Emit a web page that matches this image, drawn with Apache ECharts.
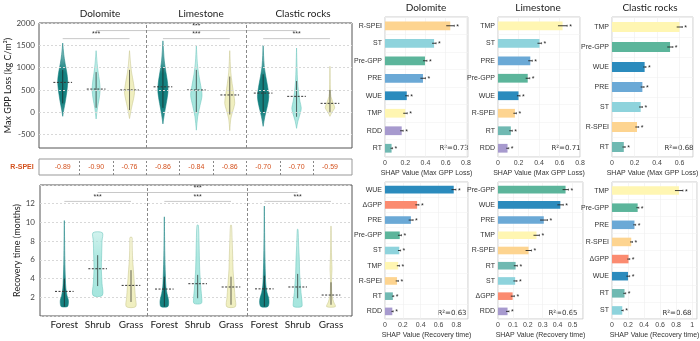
<!DOCTYPE html>
<html><head><meta charset="utf-8">
<script src="https://cdn.jsdelivr.net/npm/echarts@6/dist/echarts.min.js"></script>
<style>html,body{margin:0;padding:0;background:#fff}#c{width:700px;height:341px}</style>
</head><body><div id="c"></div>
<script>
// ---------------- DATA ----------------
const rockGroups = ['Dolomite', 'Limestone', 'Clastic rocks'];
const vegTypes = ['Forest', 'Shrub', 'Grass'];
const gppTicks = [-500, 0, 500, 1000, 1500, 2000];
const rtTicks = [2, 4, 6, 8, 10, 12];
const rspeiValues = [-0.89, -0.90, -0.76, -0.86, -0.84, -0.86, -0.70, -0.70, -0.59];

// violin outlines: [value, half-width (x units)]
const gppProfiles = [
  [[-90,0],[50,0.03],[250,0.08],[500,0.13],[700,0.15],[900,0.12],[1100,0.07],[1300,0.03],[1550,0]],
  [[-150,0],[100,0.04],[300,0.09],[500,0.12],[700,0.10],[900,0.06],[1100,0.03],[1380,0]],
  [[-140,0],[100,0.06],[300,0.12],[450,0.15],[650,0.12],[900,0.06],[1100,0.03],[1380,0]],
  [[-260,0],[-50,0.04],[200,0.10],[450,0.15],[650,0.14],[900,0.09],[1150,0.04],[1600,0]],
  [[-400,0],[-100,0.04],[150,0.11],[380,0.17],[600,0.13],[850,0.07],[1100,0.03],[1500,0]],
  [[-410,0],[-150,0.03],[50,0.10],[200,0.15],[400,0.12],[650,0.07],[900,0.03],[1380,0]],
  [[-315,0],[-100,0.05],[150,0.13],[350,0.17],[550,0.14],[800,0.08],[1050,0.03],[1500,0]],
  [[-360,0],[-200,0.04],[0,0.12],[100,0.14],[250,0.10],[450,0.06],[700,0.03],[1000,0.015],[1440,0]],
  [[-90,0],[0,0.06],[100,0.14],[200,0.10],[350,0.03],[500,0.012],[1030,0]]
];
const gppMeans = [670, 520, 500, 570, 500, 388, 430, 357, 200];
const gppInner = [[200,950],[100,900],[50,950],[100,1000],[0,950],[-50,800],[0,850],[-100,700],[0,500]];

const rtProfiles = [
  [[1.0,0.09],[1.3,0.12],[1.7,0.12],[2.2,0.08],[3,0.045],[4,0.03],[6,0.015],[8,0.008],[10.2,0]],
  [[2.2,0.14],[3.5,0.13],[5,0.11],[6.5,0.12],[8,0.13],[8.9,0.14]],
  [[1.0,0.14],[2,0.13],[3,0.11],[4,0.09],[5,0.07],[6,0.05],[7,0.04],[8,0.035],[8.4,0.03]],
  [[1.0,0.1],[1.4,0.13],[1.8,0.12],[2.4,0.08],[3.2,0.045],[4.5,0.03],[6.5,0.015],[8.5,0.007],[10.6,0]],
  [[1.35,0.11],[2,0.12],[2.8,0.1],[3.8,0.08],[5,0.06],[6.5,0.05],[8,0.04],[9.7,0.02]],
  [[1.0,0.13],[2,0.12],[3,0.1],[4,0.08],[5,0.06],[6.5,0.05],[8,0.035],[9.7,0.015]],
  [[1.0,0.1],[1.4,0.14],[1.9,0.13],[2.5,0.08],[3.3,0.045],[4.5,0.03],[7,0.015],[9.5,0.006],[11.75,0]],
  [[1.0,0.12],[1.5,0.13],[2.5,0.1],[3.5,0.08],[4.5,0.06],[6,0.05],[7.5,0.03],[9.26,0.01]],
  [[1.0,0.13],[1.5,0.08],[2,0.04],[2.6,0.02],[4,0.015],[5,0.03],[6,0.02],[7.5,0.01],[9.6,0.005]]
];
const rtMeans = [2.63, 5.05, 3.27, 2.88, 3.45, 3.1, 2.9, 3.1, 2.24];
const rtInner = [[1,4],[3.2,6.5],[1.5,4.9],[1,4.2],[1.9,4.4],[1.2,4.2],[1,4.3],[1.9,4.5],[1.2,3.6]];

const gppSig = [[0,2,1650],[3,5,1650],[6,8,1650],[1,7,1830]];
const rtSig = [[0,2,12.25],[3,5,12.25],[6,8,12.25],[1,7,13.2]];

// SHAP panels
const shapGppDolVars = ['R-SPEI','ST','Pre-GPP','PRE','WUE','TMP','RDD','RT'];
const shapGppDolVals = [0.645,0.485,0.395,0.375,0.215,0.2,0.165,0.065];
const shapGppDolErr  = [0.04,0.02,0.02,0.025,0.015,0.02,0.015,0.01];
const shapGppLimVars = ['TMP','ST','PRE','Pre-GPP','WUE','R-SPEI','RT','RDD'];
const shapGppLimVals = [0.63,0.405,0.315,0.29,0.2,0.165,0.125,0.093];
const shapGppLimErr  = [0.045,0.02,0.02,0.02,0.015,0.015,0.015,0.012];
const shapGppClaVars = ['TMP','Pre-GPP','WUE','PRE','ST','R-SPEI','RT'];
const shapGppClaVals = [0.6,0.516,0.29,0.27,0.255,0.222,0.105];
const shapGppClaErr  = [0.025,0.025,0.012,0.015,0.015,0.015,0.012];
const shapRtDolVars = ['WUE','ΔGPP','PRE','Pre-GPP','ST','TMP','R-SPEI','RT','RDD'];
const shapRtDolVals = [0.77,0.36,0.29,0.165,0.16,0.148,0.135,0.088,0.082];
const shapRtDolErr  = [0.025,0.02,0.025,0.02,0.015,0.015,0.015,0.01,0.01];
const shapRtLimVars = ['Pre-GPP','WUE','PRE','TMP','R-SPEI','RT','ST','ΔGPP','RDD'];
const shapRtLimVals = [0.453,0.418,0.307,0.258,0.205,0.118,0.115,0.098,0.064];
const shapRtLimErr  = [0.02,0.02,0.025,0.02,0.02,0.012,0.012,0.012,0.01];
const shapRtClaVars = ['TMP','Pre-GPP','PRE','R-SPEI','ΔGPP','WUE','RT','ST'];
const shapRtClaVals = [0.835,0.32,0.28,0.24,0.206,0.2,0.156,0.128];
const shapRtClaErr  = [0.05,0.015,0.015,0.015,0.015,0.02,0.015,0.012];
const r2Gpp = ['0.73','0.71','0.68'];
const r2Rt = ['0.63','0.65','0.68'];

// ---------------- STYLE ----------------
const F = 'Lato, "Open Sans", sans-serif';
const FA = '"Liberation Sans", Arial, sans-serif';
const vegColors = ['#14807f', '#a6e6de', '#f0efc0'];
const vegStroke = ['#14807f', '#6cc5bc', '#c9c78f'];
const varColors = {
  'R-SPEI':'#fdd490','ST':'#8ed3dc','Pre-GPP':'#5cb59b','PRE':'#6ba9d6','WUE':'#2b8bbd',
  'TMP':'#fff6b2','RDD':'#a79ace','RT':'#70b9b2','ΔGPP':'#fb8b70'
};
function rgba(hex, a) {
  const n = parseInt(hex.slice(1), 16);
  return 'rgba(' + (n >> 16) + ',' + ((n >> 8) & 255) + ',' + (n & 255) + ',' + a + ')';
}

function violinRender(profiles, means, inner, stopsFn) {
  return function (params, api) {
    const i = api.value(0);
    const prof = profiles[i];
    const pts = [];
    prof.forEach(p => pts.push(api.coord([i - p[1], p[0]])));
    for (let k = prof.length - 1; k >= 0; k--) pts.push(api.coord([i + prof[k][1], prof[k][0]]));
    const col = vegColors[i % 3];
    const fill = new echarts.graphic.LinearGradient(0, 0, 0, 1, stopsFn(col, i % 3));
    const m1 = api.coord([i - 0.28, means[i]]), m2 = api.coord([i + 0.28, means[i]]);
    const a = api.coord([i, inner[i][0]]), b = api.coord([i, inner[i][1]]);
    return {
      type: 'group', children: [
        { type: 'polygon', shape: { points: pts, smooth: 0.3 }, style: { fill: fill, stroke: rgba(vegStroke[i % 3], 0.7), lineWidth: 0.8 } },
        { type: 'line', shape: { x1: a[0], y1: a[1], x2: b[0], y2: b[1] }, style: { stroke: 'rgba(30,30,30,0.85)', lineWidth: 0.8 } },
        { type: 'line', shape: { x1: m1[0], y1: m1[1], x2: m2[0], y2: m2[1] }, style: { stroke: '#333', lineWidth: 1, lineDash: [2, 1.5] } }
      ]
    };
  };
}
function sigRender(sig) {
  return function (params, api) {
    const s = sig[api.value(0)];
    const p1 = api.coord([s[0], s[2]]), p2 = api.coord([s[1], s[2]]);
    return {
      type: 'group', children: [
        { type: 'line', shape: { x1: p1[0], y1: p1[1], x2: p2[0], y2: p2[1] }, style: { stroke: '#c8c8c8', lineWidth: 1 } },
        { type: 'text', style: { text: '***', x: (p1[0] + p2[0]) / 2, y: p1[1] - 1, align: 'center', verticalAlign: 'bottom', fontSize: 7, fill: '#333', fontFamily: FA } }
      ]
    };
  };
}
const topStops = (c) => [
  { offset: 0, color: rgba(c, 0.35) }, { offset: 0.4, color: rgba(c, 1) },
  { offset: 0.8, color: rgba(c, 1) }, { offset: 1, color: rgba(c, 0.75) }];
const botStops = (c, v) => v === 0 ? [
  { offset: 0, color: rgba(c, 0.03) }, { offset: 0.4, color: rgba(c, 0.45) },
  { offset: 0.7, color: rgba(c, 1) }, { offset: 1, color: rgba(c, 1) }] : [
  { offset: 0, color: rgba(c, 0.5) }, { offset: 0.4, color: rgba(c, 0.9) },
  { offset: 1, color: rgba(c, 1) }];

const XMIN = -0.71, XMAX = 8.66;
const idx9 = [0,1,2,3,4,5,6,7,8];
const catLabels = idx9.map(i => vegTypes[i % 3]);

const grids = [
  { left: 39, top: 23, width: 313, height: 125 },
  { left: 39, top: 159, width: 313, height: 16 },
  { left: 40, top: 185, width: 312, height: 131 },
  { left: 385, top: 17, width: 83, height: 140 },
  { left: 498, top: 17, width: 82, height: 140 },
  { left: 612, top: 17, width: 81, height: 140 },
  { left: 385, top: 182, width: 83, height: 137 },
  { left: 498, top: 182, width: 85, height: 137 },
  { left: 612, top: 182, width: 85, height: 137 }
].map((g, k) => Object.assign({
  show: true, backgroundColor: 'transparent', outerBoundsMode: 'none', containLabel: false,
  borderColor: k < 3 ? (k === 1 ? '#999' : '#555') : '#ccc', borderWidth: 1
}, g));

const xAxes = [], yAxes = [], series = [];
// grid 0: GPP violins
xAxes.push({ gridIndex: 0, type: 'value', min: XMIN, max: XMAX, axisLabel: { show: false }, axisTick: { show: false }, axisLine: { show: false }, splitLine: { show: false } });
yAxes.push({ gridIndex: 0, type: 'value', min: -800, max: 2000,
  axisLabel: { customValues: gppTicks, formatter: v => String(v), fontSize: 8, color: '#444', fontFamily: F, margin: 4 },
  axisTick: { show: false }, axisLine: { show: false }, splitLine: { show: false },
  name: 'Max GPP Loss (kg C/m²)', nameLocation: 'middle', nameGap: 25, nameTextStyle: { fontSize: 9, color: '#222', fontFamily: F } });
// grid 1: table
xAxes.push({ gridIndex: 1, type: 'value', min: XMIN, max: XMAX, show: false });
yAxes.push({ gridIndex: 1, type: 'value', min: 0, max: 1, show: false });
// grid 2: RT violins
xAxes.push({ gridIndex: 2, type: 'value', min: -0.73, max: 8.63,
  axisLabel: { customValues: idx9, formatter: v => catLabels[Math.round(v)], fontSize: 10, color: '#222', fontFamily: F, margin: 4 },
  axisTick: { show: false }, axisLine: { show: false }, splitLine: { show: false } });
yAxes.push({ gridIndex: 2, type: 'value', min: 0, max: 14, interval: 2,
  axisLabel: { customValues: rtTicks, fontSize: 8, color: '#444', fontFamily: F, margin: 5 },
  axisTick: { show: false }, axisLine: { show: false }, splitLine: { show: true, lineStyle: { color: '#d8d8d8', type: [2, 2] } },
  name: 'Recovery time (months)', nameLocation: 'middle', nameGap: 17, nameTextStyle: { fontSize: 9, color: '#222', fontFamily: F } });

series.push({ type: 'line', xAxisIndex: 0, yAxisIndex: 0, data: [], z: 1, silent: true,
  markLine: { silent: true, symbol: 'none', label: { show: false },
    data: gppTicks.map(v => ({ yAxis: v, lineStyle: { color: '#d8d8d8', type: [2, 2], width: 1 } }))
      .concat([2.5, 5.5].map(v => ({ xAxis: v, lineStyle: { color: '#888', type: [3, 2], width: 1 } }))) } });
series.push({ type: 'custom', xAxisIndex: 0, yAxisIndex: 0, z: 3, data: gppMeans.map((m, i) => [i, m]),
  renderItem: violinRender(gppProfiles, gppMeans, gppInner, topStops) });
series.push({ type: 'custom', xAxisIndex: 0, yAxisIndex: 0, z: 4, data: gppSig.map((s, i) => [i]),
  renderItem: sigRender(gppSig) });

series.push({ type: 'custom', xAxisIndex: 1, yAxisIndex: 1, z: 3, data: rspeiValues.map((v, i) => [i, v]),
  renderItem: function (params, api) {
    const i = api.value(0); const p = api.coord([i, 0.5]);
    return { type: 'text', style: { text: rspeiValues[i].toFixed(2), x: p[0], y: p[1], align: 'center', verticalAlign: 'middle', fontSize: 7, fill: '#d4511d', fontFamily: FA } };
  },
  markLine: { silent: true, symbol: 'none', label: { show: false },
    data: [0.5,1.5,2.5,3.5,4.5,5.5,6.5,7.5].map(v => ({ xAxis: v, lineStyle: { color: '#888', type: [2, 2], width: 1 } })) } });

series.push({ type: 'line', xAxisIndex: 2, yAxisIndex: 2, data: [], z: 1, silent: true,
  markLine: { silent: true, symbol: 'none', label: { show: false },
    data: [2.5, 5.5].map(v => ({ xAxis: v, lineStyle: { color: '#888', type: [3, 2], width: 1 } })) } });
series.push({ type: 'custom', xAxisIndex: 2, yAxisIndex: 2, z: 3, data: rtMeans.map((m, i) => [i, m]),
  renderItem: violinRender(rtProfiles, rtMeans, rtInner, botStops) });
series.push({ type: 'custom', xAxisIndex: 2, yAxisIndex: 2, z: 4, data: rtSig.map((s, i) => [i]),
  renderItem: sigRender(rtSig) });

// SHAP panels
const shapPanels = [
  { vars: shapGppDolVars, vals: shapGppDolVals, err: shapGppDolErr, max: 0.82, step: 0.2, name: 'SHAP Value (Max GPP Loss)' },
  { vars: shapGppLimVars, vals: shapGppLimVals, err: shapGppLimErr, max: 0.8, step: 0.2, name: 'SHAP Value (Max GPP Loss)' },
  { vars: shapGppClaVars, vals: shapGppClaVals, err: shapGppClaErr, max: 0.72, step: 0.2, name: 'SHAP Value (Max GPP Loss)' },
  { vars: shapRtDolVars, vals: shapRtDolVals, err: shapRtDolErr, max: 0.93, step: 0.2, name: 'SHAP Value (Recovery time)' },
  { vars: shapRtLimVars, vals: shapRtLimVals, err: shapRtLimErr, max: 0.57, step: 0.1, name: 'SHAP Value (Recovery time)' },
  { vars: shapRtClaVars, vals: shapRtClaVals, err: shapRtClaErr, max: 1.06, step: 0.2, name: 'SHAP Value (Recovery time)' }
];
shapPanels.forEach((p, k) => {
  const g = 3 + k;
  const exact = Math.abs(p.max / p.step - Math.round(p.max / p.step)) < 1e-6;
  xAxes.push({ gridIndex: g, type: 'value', min: 0, max: p.max, interval: p.step,
    axisLabel: { fontSize: 7, color: '#444', fontFamily: FA, margin: 3, showMaxLabel: exact },
    axisTick: { show: false }, axisLine: { show: false },
    splitLine: { show: true, lineStyle: { color: '#eeeeee', width: 0.6 } },
    name: p.name, nameLocation: 'middle', nameGap: 13, nameTextStyle: { fontSize: 7, color: '#333', fontFamily: FA } });
  yAxes.push({ gridIndex: g, type: 'category', data: p.vars, inverse: true,
    axisLabel: { fontSize: 7, color: '#333', fontFamily: FA, margin: 3 },
    axisTick: { show: false }, axisLine: { show: false },
    splitLine: { show: true, lineStyle: { color: '#f2f2f2', width: 0.6 } } });
  series.push({ type: 'bar', xAxisIndex: g, yAxisIndex: g, barWidth: '50%', z: 3,
    data: p.vals.map((v, j) => ({ value: v, itemStyle: { color: varColors[p.vars[j]] } })) });
  series.push({ type: 'custom', xAxisIndex: g, yAxisIndex: g, z: 4,
    data: p.vals.map((v, j) => [v, j, p.err[j]]), encode: { x: 0, y: 1 },
    renderItem: function (params, api) {
      const v = api.value(0), j = api.value(1), e = api.value(2);
      const a = api.coord([v - e, j]), b = api.coord([v + e, j]);
      return { type: 'group', children: [
        { type: 'line', shape: { x1: a[0], y1: a[1], x2: b[0], y2: b[1] }, style: { stroke: '#222', lineWidth: 0.9 } },
        { type: 'line', shape: { x1: b[0], y1: b[1] - 1, x2: b[0], y2: b[1] + 1 }, style: { stroke: '#222', lineWidth: 0.6 } },
        { type: 'text', style: { text: '*', x: b[0] + 2, y: b[1] + 1, align: 'left', verticalAlign: 'middle', fontSize: 7, fill: '#222', fontFamily: FA } }
      ] };
    } });
});

// text annotations
const graphic = [];
const leftTitleX = [100, 201, 303];
rockGroups.forEach((t, k) => graphic.push({ type: 'text', style: { text: t, x: leftTitleX[k], y: 14, fontSize: 10, fill: '#222', fontFamily: F, align: 'center', verticalAlign: 'middle' } }));
const rightTitleX = [426, 538, 650];
rockGroups.forEach((t, k) => graphic.push({ type: 'text', style: { text: t, x: rightTitleX[k], y: 8, fontSize: 10, fill: '#222', fontFamily: F, align: 'center', verticalAlign: 'middle' } }));
graphic.push({ type: 'text', style: { text: 'R-SPEI', x: 22, y: 167, fontSize: 7, fontWeight: 'bold', fill: '#d4511d', fontFamily: FA, align: 'center', verticalAlign: 'middle' } });
const r2TopX = [454, 566, 679], r2BotX = [452, 563, 677];
r2Gpp.forEach((r, k) => graphic.push({ type: 'text', style: { text: 'R²=' + r, x: r2TopX[k], y: 148, fontSize: 7, fill: '#333', fontFamily: '"DejaVu Sans", sans-serif', align: 'center', verticalAlign: 'middle' } }));
r2Rt.forEach((r, k) => graphic.push({ type: 'text', style: { text: 'R²=' + r, x: r2BotX[k], y: 313, fontSize: 7, fill: '#333', fontFamily: '"DejaVu Sans", sans-serif', align: 'center', verticalAlign: 'middle' } }));

const chart = echarts.init(document.getElementById('c'), null, { renderer: 'canvas' });
chart.setOption({
  animation: false,
  backgroundColor: '#fff',
  grid: grids, xAxis: xAxes, yAxis: yAxes, series: series, graphic: graphic
});
</script></body></html>
